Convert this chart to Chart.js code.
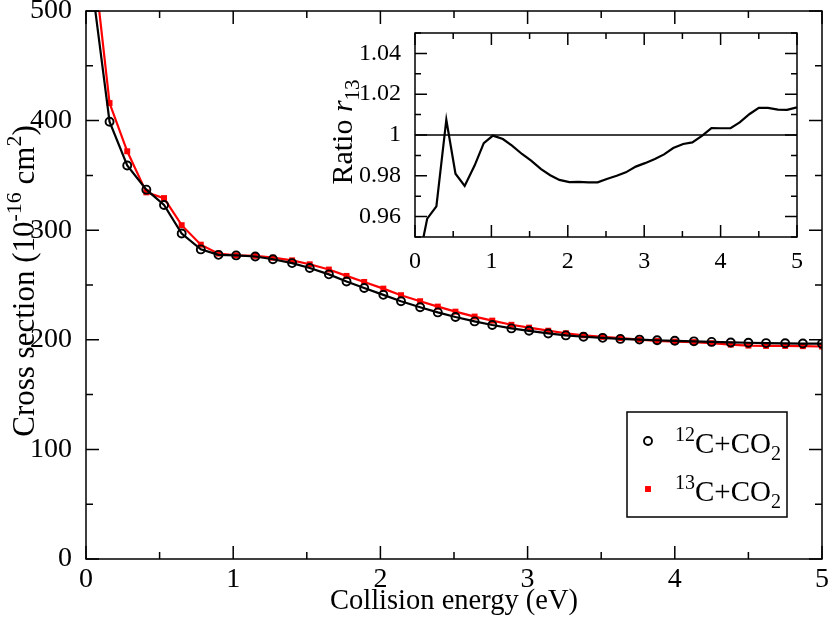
<!DOCTYPE html>
<html>
<head>
<meta charset="utf-8">
<title>Cross section vs collision energy</title>
<script src="https://cdn.jsdelivr.net/npm/chart.js@4.4.0/dist/chart.umd.min.js"></script>
<style>
  html, body { margin: 0; padding: 0; background: #fff; }
  #wrap { position: relative; width: 830px; height: 619px; }
  #mainChart { position: absolute; left: 0; top: 0; }
  #insetChart { position: absolute; left: 325px; top: 20px; }
</style>
</head>
<body>
<div id="wrap">
  <canvas id="mainChart" width="830" height="619"></canvas>
  <canvas id="insetChart" width="485" height="260"></canvas>
</div>
<script>
// Collision energies (eV), shared by all three curves
const energies = [0.03, 0.16, 0.28, 0.41, 0.53, 0.65, 0.78, 0.90, 1.02, 1.15, 1.27, 1.40, 1.52, 1.65,
  1.77, 1.89, 2.02, 2.14, 2.27, 2.39, 2.51, 2.64, 2.76, 2.89, 3.01, 3.14, 3.26, 3.38, 3.51, 3.63,
  3.76, 3.88, 4.00, 4.13, 4.25, 4.38, 4.50, 4.62, 4.75, 4.87, 5.00];

// Cross sections (10^-16 cm^2)
const sigma12 = [535, 399, 359, 337, 323, 297, 282.5, 277.5, 277, 276, 273.5, 270, 265.5, 259.7,
  253.2, 247.2, 241, 235.2, 229.7, 225, 220.8, 216.8, 213.5, 210.4, 208.2, 205.8, 204, 202.8, 201.8, 200.8,
  200.2, 199.6, 199.1, 198.6, 198.1, 197.6, 197.3, 197.0, 196.8, 196.6, 196.5];
const sigma13 = [572, 416, 372, 334.5, 329.3, 304.6, 286.8, 278.6, 277.1, 276.6, 274.9, 272.5, 268.9, 264.1,
  258.3, 252.8, 246.7, 240.7, 235.2, 230.3, 225.7, 221.2, 217.5, 213.7, 211.1, 208.3, 206, 204.1, 202.7, 201.5,
  200.2, 198.9, 198.4, 197.9, 196.9, 195.6, 194.7, 194.4, 194.4, 194.2, 193.9];

// Ratio r13 for the inset
const ratio13 = [0.935, 0.959, 0.965, 1.0075, 0.981, 0.975, 0.985, 0.996, 0.9997, 0.998, 0.9948, 0.9907, 0.9874, 0.9833,
  0.9803, 0.978, 0.9769, 0.977, 0.9768, 0.9768, 0.9784, 0.98, 0.9817, 0.9845, 0.9862, 0.9882, 0.9905, 0.9936, 0.9956, 0.9964,
  0.9997, 1.0034, 1.0033, 1.0034, 1.0062, 1.0103, 1.0133, 1.0133, 1.0124, 1.0123, 1.0136];
const ratioRef = 1;

// Tick labels
const energyTicks = [0, 1, 2, 3, 4, 5];
const sigmaTicks = [0, 100, 200, 300, 400, 500];
const ratioTicks = [0.96, 0.98, 1.00, 1.02, 1.04];

// Rich text pieces (superscripts / subscripts)
const yTitleParts = [
  { t: 'Cross section (10' }, { t: '-16', sup: true }, { t: ' cm' }, { t: '2', sup: true }, { t: ')' }
];
const insetTitleParts = [{ t: 'Ratio ' }, { t: 'r', italic: true }, { t: '13', sub: true }];
const legendParts = [
  [{ t: '12', sup: true }, { t: 'C+CO' }, { t: '2', sub: true }],
  [{ t: '13', sup: true }, { t: 'C+CO' }, { t: '2', sub: true }]
];

const FONT = '"Liberation Serif", "Times New Roman", serif';

function toPoints(xs, ys) {
  return xs.map((x, i) => ({ x: x, y: ys[i] }));
}

// Draw a run of text pieces with super/subscripts, starting at x on baseline y
function drawRich(ctx, parts, x, y, size, align) {
  const small = Math.round(size * 0.7);
  const fontFor = p => (p.italic ? 'italic ' : '') + ((p.sup || p.sub) ? small : size) + 'px ' + FONT;
  let total = 0;
  parts.forEach(p => { ctx.font = fontFor(p); total += ctx.measureText(p.t).width; });
  let cx = align === 'center' ? x - total / 2 : x;
  parts.forEach(p => {
    ctx.font = fontFor(p);
    let dy = 0;
    if (p.sup) dy = -size * 0.42;
    if (p.sub) dy = size * 0.24;
    ctx.fillText(p.t, cx, y + dy);
    cx += ctx.measureText(p.t).width;
  });
}

// Frame plus inward ticks on all four sides (xmgrace look)
const frameTicks = {
  id: 'frameTicks',
  afterDraw(chart, args, opts) {
    const ctx = chart.ctx;
    const a = chart.chartArea;
    const xs = chart.scales.x;
    const ys = chart.scales.y;
    ctx.save();
    ctx.strokeStyle = '#000';
    ctx.lineWidth = 1.5;
    ctx.strokeRect(a.left, a.top, a.right - a.left, a.bottom - a.top);

    const isMajor = (v, step) => Math.abs(v / step - Math.round(v / step)) < 1e-6;
    ctx.beginPath();
    for (let i = 0; xs.min + i * opts.xMinor <= xs.max + 1e-9; i++) {
      const v = xs.min + i * opts.xMinor;
      const px = xs.getPixelForValue(v);
      const len = isMajor(v, opts.xMajor) ? opts.major : opts.minor;
      ctx.moveTo(px, a.bottom); ctx.lineTo(px, a.bottom - len);
      ctx.moveTo(px, a.top); ctx.lineTo(px, a.top + len);
    }
    const y0 = Math.ceil(ys.min / opts.yMinor - 1e-6) * opts.yMinor;
    for (let i = 0; y0 + i * opts.yMinor <= ys.max + 1e-9; i++) {
      const v = y0 + i * opts.yMinor;
      const py = ys.getPixelForValue(v);
      const len = isMajor(v, opts.yMajor) ? opts.major : opts.minor;
      ctx.moveTo(a.left, py); ctx.lineTo(a.left + len, py);
      ctx.moveTo(a.right, py); ctx.lineTo(a.right - len, py);
    }
    ctx.stroke();
    ctx.restore();
  }
};

// Main chart: rotated y title and the legend box
const mainDecor = {
  id: 'mainDecor',
  afterDraw(chart) {
    const ctx = chart.ctx;
    ctx.save();
    ctx.fillStyle = '#000';
    ctx.textBaseline = 'alphabetic';
    ctx.translate(34, 281);
    ctx.rotate(-Math.PI / 2);
    drawRich(ctx, yTitleParts, 0, 0, 31, 'center');
    ctx.restore();

    // legend
    ctx.save();
    ctx.strokeStyle = '#000';
    ctx.lineWidth = 1.5;
    ctx.strokeRect(627, 412, 160, 105);
    chart.data.datasets.forEach((ds, i) => {
      const cy = 441 + i * 48;
      if (ds.pointStyle === 'circle') {
        ctx.beginPath();
        ctx.lineWidth = ds.pointBorderWidth;
        ctx.strokeStyle = ds.pointBorderColor;
        ctx.arc(648, cy, ds.pointRadius, 0, Math.PI * 2);
        ctx.stroke();
      } else {
        const s = ds.pointRadius * Math.SQRT1_2;
        ctx.fillStyle = ds.pointBackgroundColor;
        ctx.fillRect(648 - s, cy - s, 2 * s, 2 * s);
      }
      ctx.fillStyle = '#000';
      drawRich(ctx, legendParts[i], 675, cy + 12, 29, 'left');
    });
    ctx.restore();
  }
};

// Inset: r13 title and the reference line at 1
const insetDecor = {
  id: 'insetDecor',
  beforeDatasetsDraw(chart) {
    const ctx = chart.ctx;
    const a = chart.chartArea;
    const py = chart.scales.y.getPixelForValue(ratioRef);
    ctx.save();
    ctx.strokeStyle = '#000';
    ctx.lineWidth = 1.3;
    ctx.beginPath();
    ctx.moveTo(a.left, py);
    ctx.lineTo(a.right, py);
    ctx.stroke();
    ctx.restore();
  },
  afterDraw(chart) {
    const ctx = chart.ctx;
    ctx.save();
    ctx.fillStyle = '#000';
    ctx.translate(27, 112);
    ctx.rotate(-Math.PI / 2);
    drawRich(ctx, insetTitleParts, 0, 0, 30, 'center');
    ctx.restore();
  }
};

function tickFont(size) {
  return { family: FONT, size: size };
}

// Keep the plot frame exactly where the layout puts it (no room for label overhang)
function fitX(h) {
  return s => { s.height = h; s.paddingLeft = 0; s.paddingRight = 0; };
}
function fitY(w) {
  return s => { s.width = w; s.paddingTop = 0; s.paddingBottom = 0; };
}

new Chart(document.getElementById('mainChart'), {
  type: 'line',
  data: {
    datasets: [
      {
        label: '12C+CO2',
        data: toPoints(energies, sigma12),
        borderColor: '#000',
        borderWidth: 2.2,
        pointStyle: 'circle',
        pointRadius: 4,
        pointBorderWidth: 1.9,
        pointBorderColor: '#000',
        pointBackgroundColor: 'rgba(0,0,0,0)',
        tension: 0
      },
      {
        label: '13C+CO2',
        data: toPoints(energies, sigma13),
        borderColor: '#ff0000',
        borderWidth: 2.2,
        pointStyle: 'rect',
        pointRadius: 4.2,
        pointBorderWidth: 0,
        pointBorderColor: '#ff0000',
        pointBackgroundColor: '#ff0000',
        tension: 0
      }
    ]
  },
  options: {
    responsive: false,
    animation: false,
    devicePixelRatio: 1,
    layout: { padding: { left: 0, right: 8, top: 11, bottom: 0 } },
    plugins: {
      legend: { display: false },
      tooltip: { enabled: false },
      frameTicks: { xMinor: 0.5, xMajor: 1, yMinor: 50, yMajor: 100, major: 13, minor: 7 }
    },
    scales: {
      x: {
        type: 'linear',
        min: 0,
        max: 5,
        afterFit: fitX(60),
        afterBuildTicks: s => { s.ticks = energyTicks.map(v => ({ value: v })); },
        grid: { display: false },
        border: { display: false },
        ticks: { font: tickFont(28), color: '#000', padding: -4, maxRotation: 0 },
        title: { display: true, text: 'Collision energy (eV)', font: tickFont(28.5), color: '#000', padding: 0 }
      },
      y: {
        type: 'linear',
        min: 0,
        max: 500,
        afterFit: fitY(86),
        afterBuildTicks: s => { s.ticks = sigmaTicks.map(v => ({ value: v })); },
        grid: { display: false },
        border: { display: false },
        ticks: { font: tickFont(28), color: '#000', padding: 6 }
      }
    }
  },
  plugins: [frameTicks, mainDecor]
});

new Chart(document.getElementById('insetChart'), {
  type: 'line',
  data: {
    datasets: [{
      label: 'Ratio r13',
      data: toPoints(energies, ratio13),
      borderColor: '#000',
      borderWidth: 2.2,
      pointRadius: 0,
      tension: 0
    }]
  },
  options: {
    responsive: false,
    animation: false,
    devicePixelRatio: 1,
    layout: { padding: { left: 0, right: 13, top: 13, bottom: 0 } },
    plugins: {
      legend: { display: false },
      tooltip: { enabled: false },
      frameTicks: { xMinor: 0.5, xMajor: 1, yMinor: 0.01, yMajor: 0.02, major: 12, minor: 6 }
    },
    scales: {
      x: {
        type: 'linear',
        min: 0,
        max: 5,
        afterFit: fitX(43),
        afterBuildTicks: s => { s.ticks = energyTicks.map(v => ({ value: v })); },
        grid: { display: false },
        border: { display: false },
        ticks: { font: tickFont(24), color: '#000', padding: 2, maxRotation: 0 }
      },
      y: {
        type: 'linear',
        min: 0.95,
        max: 1.05,
        afterFit: fitY(90),
        afterBuildTicks: s => { s.ticks = ratioTicks.map(v => ({ value: v })); },
        grid: { display: false },
        border: { display: false },
        ticks: {
          font: tickFont(24),
          color: '#000',
          padding: 6,
          callback: v => String(Number(v.toFixed(2)))
        }
      }
    }
  },
  plugins: [frameTicks, insetDecor]
});
</script>
</body>
</html>
